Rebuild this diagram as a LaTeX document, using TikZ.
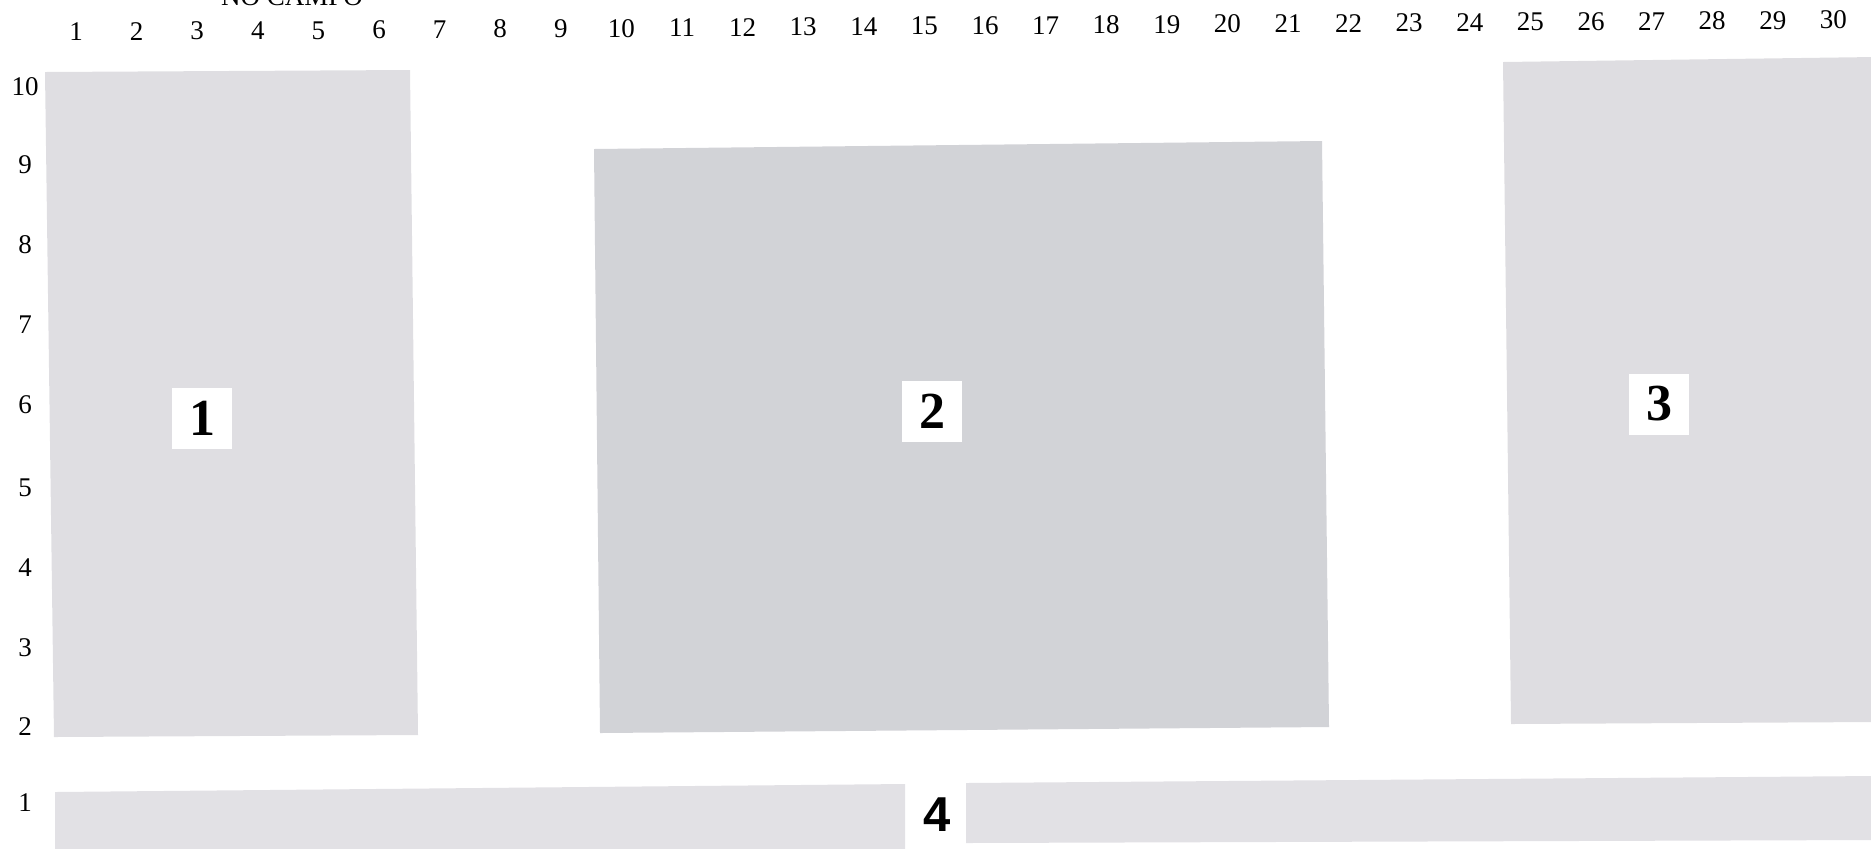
\documentclass[tikz,border=0pt]{standalone}
\usepackage{fontspec}
\setmainfont{Liberation Serif}
\newfontfamily\arialfont{Liberation Sans}
\definecolor{plotA}{RGB}{223,222,226}
\definecolor{plotB}{RGB}{210,211,215}
\definecolor{plotC}{RGB}{222,221,225}
\definecolor{plotD}{RGB}{226,225,229}
\tikzset{
  plotfill/.style={fill=#1, draw=none},
  scalenum/.style={font=\fontsize{13.5}{14}\selectfont, inner sep=0pt},
  plotlabel/.style={fill=white, minimum width=30pt, minimum height=30.5pt, inner sep=0pt, font=\fontsize{26}{28}\selectfont\bfseries},
  barlabel/.style={inner sep=0pt, font=\fontsize{24.5}{26}\selectfont\arialfont\bfseries}
}
\begin{document}
\begin{tikzpicture}[x=0.5pt,y=-0.5pt]
\useasboundingbox (0,0) rectangle (1871,848);
\clip (0,0) rectangle (1871,848);
% plots
\fill[plotfill=plotA] (45,72) -- (410,70) -- (418,735) -- (54,737) -- cycle;
\fill[plotfill=plotB] (594,149) -- (1322,141) -- (1329,727) -- (600,733) -- cycle;
\fill[plotfill=plotC] (1503,62) -- (1875,57) -- (1875,722) -- (1511,724) -- cycle;
\fill[plotfill=plotD] (55,792) -- (905,784) -- (905,860) -- (55,860) -- cycle;
\fill[plotfill=plotD] (966,783) -- (1875,776) -- (1875,840) -- (966,843) -- cycle;
% labels
\node[plotlabel] (l1) at (202,418) {1};
\node[plotlabel] (l2) at (932,411) {2};
\node[plotlabel] (l3) at (1659,404) {3};
\node[barlabel] (l4) at (937,815) {4};
% title (cut at top)
\node[scalenum, anchor=base] (title) at (292,5) {NO CAMPO};
% column numbers
\foreach \i in {1,...,30} {
  \node[scalenum] (c\i) at ({76+60.6*(\i-1)},{32-12*(\i-1)/29}) {\i};
}
% row numbers
\foreach \r/\y in {10/87,9/165,8/245,7/325,6/405,5/488,4/568,3/648,2/727,1/803} {
  \node[scalenum] (r\r) at (25,\y) {\r};
}
\end{tikzpicture}
\end{document}
